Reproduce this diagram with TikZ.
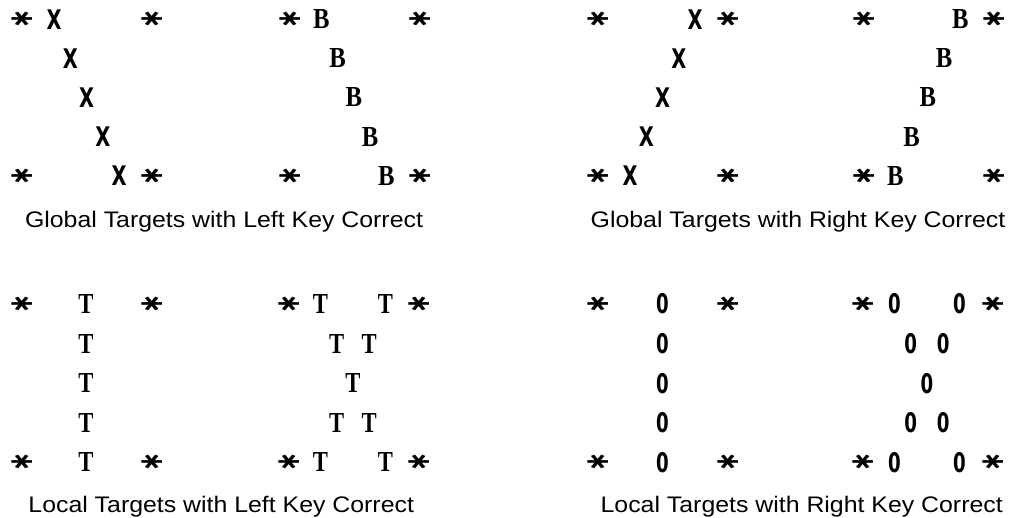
\documentclass[tikz,border=0pt]{standalone}
\usepackage{fontspec}
\usepackage{graphicx}
\setmainfont{Liberation Sans}
\newfontfamily\glyphserif{Liberation Serif}
\newfontfamily\glyphsans{DejaVu Sans}
\newfontfamily\glyphcond{DejaVu Sans Condensed}

% glyphs used in the target grids
\newcommand\glX{\scalebox{0.8}[1]{\glyphcond\bfseries\fontsize{27}{27}\selectfont X}}
\newcommand\glB{\scalebox{0.85}[1]{\glyphserif\bfseries\fontsize{29}{29}\selectfont B}}
\newcommand\glT{\scalebox{0.78}[1]{\glyphserif\bfseries\fontsize{29}{29}\selectfont T}}
\newcommand\glO{\scalebox{0.75}[1]{\glyphcond\bfseries\fontsize{27}{27}\selectfont 0}}
\newcommand\glStar{\scalebox{0.76}[1.1]{\glyphsans\bfseries\fontsize{30}{30}\selectfont ∗}}

\tikzset{
  cell/.style={inner sep=0pt, outer sep=0pt, anchor=center},
  starmark/.style={cell, rotate=90},
  capt/.style={inner sep=0pt, anchor=base},
}

% #1 name, #2 left x, #3 top row y, #4 row step, #5 glyph, #6 col/row list
\newcommand\putpanel[6]{%
  \foreach \c/\r [count=\i] in {#6}
    \node[cell] (#1-\i) at ({#2+16.25*\c}, {-(#3+#4*\r)}) {#5};
  \foreach \c/\r [count=\i] in {0/0,8/0,0/4,8/4}
    \node[starmark] (#1-s\i) at ({#2+1+16.25*\c}, {-(#3+#4*\r)}) {\glStar};
}

\newcommand\capttext[1]{\scalebox{1.105}[1]{\fontsize{22.5}{22.5}\selectfont #1}}

\begin{document}
\begin{tikzpicture}[x=1pt, y=1pt]
  \useasboundingbox[fill=white] (0,0) rectangle (1023,-517);

  % global targets
  \putpanel{gla}{21.5}{19.3}{39.1}{\glX}{2/0,3/1,4/2,5/3,6/4}
  \putpanel{glb}{288.8}{19.3}{39.1}{\glB}{2/0,3/1,4/2,5/3,6/4}
  \putpanel{gra}{597.5}{19.3}{39.1}{\glX}{6/0,5/1,4/2,3/3,2/4}
  \putpanel{grb}{862.8}{19.3}{39.1}{\glB}{6/0,5/1,4/2,3/3,2/4}

  % local targets
  \putpanel{lla}{21}{304}{39.6}{\glT}{4/0,4/1,4/2,4/3,4/4}
  \putpanel{llb}{288}{304}{39.6}{\glT}{2/0,6/0,3/1,5/1,4/2,3/3,5/3,2/4,6/4}
  \putpanel{lra}{597.5}{304}{39.6}{\glO}{4/0,4/1,4/2,4/3,4/4}
  \putpanel{lrb}{862}{304}{39.6}{\glO}{2/0,6/0,3/1,5/1,4/2,3/3,5/3,2/4,6/4}

  % captions
  \node[capt] (c1) at (224,-227.7) {\capttext{Global Targets with Left Key Correct}};
  \node[capt] (c2) at (798,-227.7) {\capttext{Global Targets with Right Key Correct}};
  \node[capt] (c3) at (221.2,-512) {\capttext{Local Targets with Left Key Correct}};
  \node[capt] (c4) at (801.7,-512) {\capttext{Local Targets with Right Key Correct}};
\end{tikzpicture}
\end{document}
